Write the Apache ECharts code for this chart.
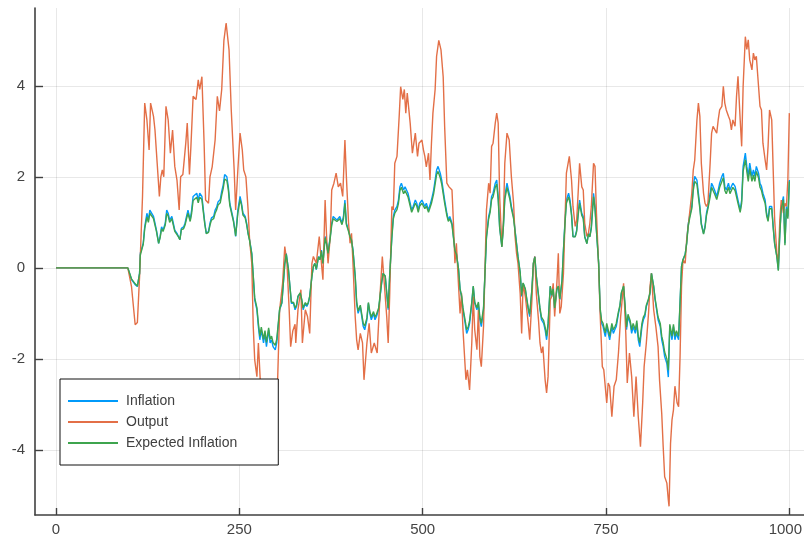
<!DOCTYPE html>
<html>
<head>
<meta charset="utf-8">
<script src="https://cdn.jsdelivr.net/npm/echarts@6/dist/echarts.min.js"></script>
<style>html,body{margin:0;padding:0;background:#fff;overflow:hidden}#c{width:804px;height:536px}</style>
</head>
<body>
<div id="c"></div>
<script>
const xTicks = [0, 250, 500, 750, 1000];
const yTicks = [-4, -2, 0, 2, 4];
const seriesNames = ['Inflation', 'Output', 'Expected Inflation'];

const inflation = [[0,0],[98,0],[103,-0.26],[108,-0.37],[111,-0.41],[114,-0.12],[115,0.32],[119,0.54],[121,0.9],[124,1.2],[126,1.05],[128,1.27],[130,1.31],[133,1.13],[135,0.98],[137,0.83],[140,0.54],[142,0.69],[144,0.9],[146,0.83],[149,0.98],[151,1.27],[153,1.2],[155,1.05],[158,1.13],[160,0.98],[162,0.83],[165,0.76],[167,0.69],[169,0.62],[171,0.87],[174,0.9],[176,0.98],[178,1.13],[180,1.27],[183,1.05],[185,1.27],[187,1.57],[192,1.64],[194,1.49],[196,1.64],[199,1.57],[201,1.27],[203,0.98],[205,0.76],[208,0.8],[210,0.98],[212,1.1],[215,1.13],[217,1.27],[219,1.33],[221,1.45],[224,1.5],[226,1.68],[228,1.82],[230,2.05],[233,2.0],[235,1.78],[237,1.42],[240,1.2],[242,1.05],[244,0.83],[245,0.69],[248,1.27],[251,1.57],[253,1.42],[255,1.2],[258,1.13],[260,0.98],[262,0.76],[264,0.62],[267,0.32],[269,-0.19],[271,-0.7],[274,-0.92],[276,-1.29],[278,-1.58],[280,-1.36],[283,-1.65],[285,-1.44],[287,-1.73],[290,-1.36],[292,-1.65],[294,-1.58],[296,-1.73],[299,-1.8],[301,-1.65],[303,-1.29],[305,-0.92],[308,-0.78],[310,-0.34],[312,0.1],[314,0.32],[317,-0.04],[319,-0.41],[321,-0.78],[324,-0.78],[326,-0.92],[328,-0.85],[330,-0.63],[333,-0.56],[335,-0.7],[337,-0.92],[340,-0.78],[342,-0.85],[344,-0.78],[346,-0.63],[349,-0.19],[351,0.03],[353,0.1],[355,-0.04],[358,0.25],[360,0.18],[362,0.39],[364,0.1],[367,0.69],[369,0.54],[371,0.32],[374,0.69],[376,0.98],[378,1.13],[380,1.1],[383,1.05],[385,1.05],[387,1.13],[390,0.98],[392,1.13],[394,1.49],[396,0.98],[399,0.83],[401,0.69],[403,0.62],[405,0.39],[408,-0.19],[410,-0.78],[412,-1.0],[415,-0.85],[417,-1.07],[419,-1.29],[421,-1.36],[424,-1.14],[426,-0.78],[428,-1.0],[430,-1.14],[433,-1.0],[435,-1.14],[437,-1.07],[440,-0.92],[442,-0.63],[444,-0.34],[446,-0.12],[449,-0.19],[451,-0.56],[453,-0.92],[455,-0.19],[458,0.69],[460,1.13],[462,1.27],[465,1.35],[467,1.49],[469,1.78],[471,1.86],[474,1.71],[476,1.78],[478,1.71],[480,1.64],[483,1.42],[485,1.27],[487,1.35],[490,1.49],[492,1.42],[494,1.27],[496,1.42],[499,1.49],[501,1.42],[503,1.35],[505,1.42],[508,1.27],[510,1.27],[512,1.49],[515,1.71],[517,1.93],[519,2.15],[521,2.23],[524,2.08],[526,1.93],[528,1.71],[530,1.49],[533,1.2],[535,1.05],[537,1.13],[540,0.98],[542,0.69],[544,0.39],[546,0.32],[549,-0.04],[551,-0.48],[553,-0.63],[555,-0.92],[558,-1.22],[560,-1.44],[562,-1.36],[564,-1.22],[567,-0.78],[569,-0.41],[571,-0.78],[574,-0.92],[576,-0.78],[578,-1.14],[580,-1.29],[583,-0.92],[585,-0.12],[587,0.69],[590,1.13],[592,1.27],[594,1.57],[596,1.64],[599,1.86],[601,1.93],[603,1.57],[605,0.9],[608,0.47],[610,0.9],[612,1.57],[615,1.86],[617,1.71],[619,1.57],[621,1.35],[624,1.13],[626,0.83],[628,0.54],[630,0.25],[633,-0.12],[635,-0.63],[637,-0.34],[640,-0.48],[642,-0.7],[644,-0.92],[646,-1.07],[649,-0.48],[651,0.1],[653,0.25],[655,-0.19],[658,-0.63],[660,-0.92],[662,-1.14],[665,-1.22],[667,-1.36],[669,-1.58],[671,-1.29],[674,-0.41],[676,-0.63],[678,-0.48],[680,-0.92],[683,-0.48],[685,-0.41],[687,-0.7],[690,-0.3],[692,0.39],[694,1.0],[696,1.49],[699,1.64],[701,1.49],[703,1.2],[705,0.69],[708,0.69],[710,0.83],[712,1.2],[714,1.49],[717,1.2],[719,1.13],[721,0.69],[724,0.54],[726,0.76],[728,0.69],[730,0.9],[733,1.64],[735,1.35],[737,0.83],[740,0.1],[742,-0.92],[744,-1.22],[746,-1.29],[749,-1.51],[751,-1.29],[753,-1.44],[755,-1.58],[758,-1.29],[760,-1.44],[762,-1.36],[764,-1.29],[767,-1.0],[769,-0.85],[771,-0.56],[774,-0.41],[776,-0.85],[778,-1.36],[780,-1.07],[783,-1.22],[785,-1.44],[787,-1.29],[790,-1.44],[792,-1.22],[794,-1.58],[796,-1.73],[799,-1.29],[801,-1.14],[803,-1.07],[805,-0.85],[808,-0.7],[810,-0.56],[812,-0.12],[815,-0.41],[817,-0.7],[819,-0.92],[821,-1.14],[824,-1.29],[826,-1.58],[828,-1.73],[830,-1.95],[833,-2.1],[835,-2.4],[837,-1.29],[840,-1.58],[842,-1.29],[844,-1.58],[846,-1.44],[849,-1.58],[851,-0.78],[853,0.03],[855,0.18],[858,0.3],[860,0.55],[862,0.95],[864,1.13],[867,1.35],[869,1.79],[871,2.01],[874,1.93],[876,1.64],[878,1.35],[880,0.98],[883,0.76],[885,0.91],[887,1.2],[889,1.35],[892,1.64],[894,1.86],[896,1.79],[898,1.71],[901,1.57],[903,1.71],[905,1.86],[908,2.01],[910,2.08],[912,1.79],[914,1.71],[917,1.86],[919,1.71],[921,1.79],[923,1.86],[926,1.79],[928,1.64],[930,1.49],[933,1.27],[935,1.49],[937,2.23],[940,2.52],[942,2.23],[944,2.01],[946,2.3],[949,2.01],[951,2.15],[953,2.01],[955,2.23],[958,2.08],[960,1.86],[962,1.79],[964,1.64],[967,1.49],[969,1.2],[971,1.05],[973,1.35],[976,1.35],[978,0.91],[980,0.54],[983,0.25],[985,-0.04],[987,0.76],[989,1.35],[992,1.57],[994,0.54],[996,1.35],[998,1.13],[1000,1.93]];

const output = [[0,0],[98,0],[103,-0.41],[108,-1.25],[111,-1.2],[114,-0.19],[118,1.57],[121,3.62],[124,3.25],[127,2.59],[129,3.62],[133,3.33],[135,3.03],[138,2.3],[141,1.57],[143,2.0],[145,2.15],[147,2.0],[150,3.55],[153,3.25],[156,2.52],[159,3.03],[162,2.23],[165,1.93],[168,1.27],[170,2.0],[173,2.05],[177,2.74],[179,3.18],[182,2.05],[184,2.67],[187,3.77],[191,3.7],[194,4.13],[196,3.92],[199,4.2],[202,2.74],[204,1.49],[208,1.42],[210,2.0],[213,2.22],[217,2.81],[220,3.77],[223,3.45],[226,3.92],[229,5.0],[232,5.38],[236,4.79],[239,3.47],[243,2.15],[245,1.27],[248,2.15],[251,2.96],[254,2.6],[256,2.15],[259,2.0],[262,1.27],[264,0.62],[267,0.1],[269,-1.29],[271,-2.02],[274,-2.39],[276,-1.65],[279,-2.6],[283,-3.2],[287,-2.8],[291,-3.5],[295,-2.9],[299,-3.3],[302,-2.6],[305,-0.92],[309,-0.34],[312,0.47],[315,0.1],[318,-0.92],[320,-1.73],[323,-1.38],[326,-1.24],[327,-1.65],[330,-0.92],[334,-0.48],[336,-1.65],[340,-0.92],[343,-1.07],[346,-1.44],[349,0.1],[351,0.25],[355,0.1],[359,0.69],[362,0.1],[364,-0.26],[367,1.49],[369,0.69],[371,0.1],[374,0.69],[376,1.71],[379,1.86],[382,2.08],[385,1.78],[388,1.86],[391,1.57],[394,2.81],[396,2.0],[399,0.98],[401,0.54],[403,0.76],[405,0.1],[408,-1.07],[410,-1.58],[412,-1.8],[415,-1.44],[418,-1.65],[420,-2.46],[424,-1.65],[427,-1.22],[430,-1.87],[434,-1.65],[438,-1.87],[439,-1.51],[442,-0.56],[445,0.25],[447,-0.19],[451,-1.07],[453,-1.65],[455,-0.63],[458,1.35],[460,1.27],[462,2.3],[465,2.45],[468,3.33],[470,3.98],[473,3.7],[475,3.92],[477,3.4],[479,3.84],[483,3.18],[486,2.52],[488,2.74],[490,2.96],[493,2.45],[495,2.74],[499,2.81],[501,2.6],[503,2.45],[505,2.22],[508,2.52],[510,1.93],[512,2.74],[514,3.4],[517,3.92],[519,4.65],[522,5.0],[525,4.79],[528,4.2],[530,3.1],[533,1.86],[536,1.78],[540,1.71],[542,0.98],[544,0.1],[546,0.54],[549,-0.41],[551,-1.0],[553,-0.56],[555,-1.36],[559,-2.46],[561,-2.24],[564,-2.68],[567,-1.65],[569,-0.63],[571,-1.36],[574,-1.8],[576,-0.92],[578,-1.95],[580,-2.17],[583,-1.29],[585,-0.04],[587,1.27],[590,1.86],[592,1.64],[594,2.67],[596,2.74],[599,3.18],[601,3.4],[603,3.18],[605,1.57],[608,0.47],[610,0.98],[612,2.3],[615,2.96],[618,2.81],[621,2.0],[624,1.42],[626,0.69],[628,0.32],[630,0.1],[633,-0.56],[635,-1.44],[637,-0.34],[640,-0.63],[642,-0.92],[644,-1.22],[646,-1.58],[649,-0.7],[651,0.1],[653,0.25],[655,-0.56],[658,-1.15],[660,-1.65],[662,-1.87],[664,-1.73],[667,-2.46],[669,-2.75],[671,-2.39],[674,-0.7],[676,-0.63],[678,-0.34],[680,-1.07],[683,-0.34],[685,0.32],[687,-1.0],[689,-0.85],[692,-0.12],[694,0.98],[696,2.08],[700,2.45],[703,1.93],[705,1.35],[708,0.91],[710,1.05],[712,1.64],[714,2.3],[717,1.78],[719,1.71],[721,0.98],[724,0.69],[726,0.76],[728,0.98],[730,1.35],[733,2.3],[735,2.23],[737,1.2],[740,0.03],[742,-1.0],[745,-2.17],[747,-2.24],[751,-2.97],[753,-2.53],[755,-2.6],[758,-3.27],[761,-2.6],[764,-2.46],[767,-1.87],[770,-1.07],[774,-0.34],[777,-1.44],[779,-2.53],[782,-1.87],[785,-2.39],[788,-3.27],[791,-2.39],[794,-3.27],[797,-3.93],[800,-2.97],[802,-2.17],[805,-1.65],[808,-1.0],[810,-0.41],[812,-0.12],[815,-0.92],[818,-1.29],[821,-1.73],[823,-2.46],[826,-3.2],[828,-3.93],[830,-4.59],[833,-4.73],[835,-5.1],[836,-5.24],[838,-3.86],[840,-3.34],[842,-3.12],[844,-2.6],[847,-2.97],[849,-3.05],[851,-1.95],[853,-0.4],[855,0.18],[858,0.1],[860,0.62],[863,1.05],[867,1.64],[869,2.15],[871,2.37],[874,3.25],[876,3.62],[878,3.33],[880,2.3],[883,1.64],[885,1.42],[887,1.35],[889,1.42],[892,2.3],[894,2.96],[896,3.11],[898,3.11],[901,2.96],[903,3.25],[905,3.47],[908,3.55],[910,3.99],[912,3.62],[914,3.47],[917,3.33],[919,3.25],[921,3.03],[923,3.25],[926,3.11],[928,3.77],[930,4.21],[933,3.25],[935,2.67],[937,3.99],[940,5.08],[942,4.8],[944,5.01],[946,4.57],[949,4.35],[951,4.72],[953,4.57],[955,4.65],[958,3.99],[960,3.55],[962,3.47],[964,2.74],[967,2.37],[969,2.15],[971,2.67],[973,3.47],[976,3.25],[978,2.15],[980,1.05],[983,0.32],[985,0.1],[987,1.05],[989,1.49],[992,1.2],[994,1.42],[996,1.35],[998,1.93],[1000,3.4]];

const expectedInflation = [[0,0],[98,0],[103,-0.24],[108,-0.35],[111,-0.4],[114,-0.12],[115,0.28],[119,0.52],[121,0.86],[124,1.12],[126,1.0],[128,1.2],[130,1.24],[133,1.08],[135,0.94],[137,0.8],[140,0.54],[142,0.66],[144,0.86],[146,0.8],[149,0.94],[151,1.2],[153,1.14],[155,1.0],[158,1.08],[160,0.94],[162,0.8],[165,0.73],[167,0.68],[169,0.62],[171,0.84],[174,0.86],[176,0.94],[178,1.08],[180,1.2],[183,1.02],[185,1.2],[187,1.48],[192,1.55],[194,1.43],[196,1.55],[199,1.5],[201,1.22],[203,0.95],[205,0.75],[208,0.78],[210,0.94],[212,1.05],[215,1.08],[217,1.2],[219,1.27],[221,1.38],[224,1.43],[226,1.6],[228,1.74],[230,1.95],[233,1.92],[235,1.72],[237,1.38],[240,1.16],[242,1.02],[244,0.82],[245,0.7],[248,1.2],[251,1.5],[253,1.38],[255,1.16],[258,1.1],[260,0.95],[262,0.75],[264,0.6],[267,0.3],[269,-0.17],[271,-0.66],[274,-0.88],[276,-1.22],[278,-1.5],[280,-1.3],[283,-1.57],[285,-1.38],[287,-1.64],[290,-1.32],[292,-1.57],[294,-1.5],[296,-1.64],[299,-1.7],[301,-1.57],[303,-1.24],[305,-0.9],[308,-0.76],[310,-0.34],[312,0.08],[314,0.3],[317,-0.04],[319,-0.4],[321,-0.75],[324,-0.76],[326,-0.88],[328,-0.82],[330,-0.62],[333,-0.55],[335,-0.68],[337,-0.88],[340,-0.76],[342,-0.82],[344,-0.76],[346,-0.62],[349,-0.18],[351,0.03],[353,0.1],[355,-0.03],[358,0.24],[360,0.18],[362,0.37],[364,0.1],[367,0.66],[369,0.52],[371,0.32],[374,0.66],[376,0.94],[378,1.08],[380,1.06],[383,1.02],[385,1.02],[387,1.08],[390,0.95],[392,1.08],[394,1.42],[396,0.95],[399,0.8],[401,0.68],[403,0.6],[405,0.38],[408,-0.17],[410,-0.74],[412,-0.95],[415,-0.82],[417,-1.02],[419,-1.22],[421,-1.28],[424,-1.1],[426,-0.76],[428,-0.96],[430,-1.08],[433,-0.96],[435,-1.08],[437,-1.02],[440,-0.88],[442,-0.6],[444,-0.33],[446,-0.12],[449,-0.18],[451,-0.54],[453,-0.88],[455,-0.18],[458,0.66],[460,1.08],[462,1.2],[465,1.28],[467,1.42],[469,1.7],[471,1.77],[474,1.63],[476,1.7],[478,1.63],[480,1.56],[483,1.36],[485,1.22],[487,1.3],[490,1.42],[492,1.36],[494,1.22],[496,1.36],[499,1.42],[501,1.36],[503,1.3],[505,1.36],[508,1.22],[510,1.22],[512,1.42],[515,1.63],[517,1.84],[519,2.05],[521,2.12],[524,1.98],[526,1.84],[528,1.63],[530,1.42],[533,1.15],[535,1.02],[537,1.08],[540,0.95],[542,0.66],[544,0.38],[546,0.3],[549,-0.04],[551,-0.46],[553,-0.6],[555,-0.88],[558,-1.16],[560,-1.36],[562,-1.3],[564,-1.16],[567,-0.75],[569,-0.4],[571,-0.75],[574,-0.88],[576,-0.75],[578,-1.08],[580,-1.22],[583,-0.88],[585,-0.1],[587,0.66],[590,1.08],[592,1.22],[594,1.5],[596,1.56],[599,1.77],[601,1.84],[603,1.5],[605,0.88],[608,0.46],[610,0.88],[612,1.5],[615,1.77],[617,1.63],[619,1.5],[621,1.3],[624,1.08],[626,0.8],[628,0.52],[630,0.24],[633,-0.1],[635,-0.6],[637,-0.33],[640,-0.46],[642,-0.68],[644,-0.88],[646,-1.02],[649,-0.46],[651,0.1],[653,0.24],[655,-0.18],[658,-0.6],[660,-0.88],[662,-1.08],[665,-1.16],[667,-1.3],[669,-1.5],[671,-1.22],[674,-0.4],[676,-0.6],[678,-0.46],[680,-0.88],[683,-0.46],[685,-0.4],[687,-0.68],[690,-0.28],[692,0.38],[694,0.96],[696,1.42],[699,1.56],[701,1.42],[703,1.15],[705,0.68],[708,0.68],[710,0.8],[712,1.15],[714,1.42],[717,1.15],[719,1.08],[721,0.68],[724,0.53],[726,0.74],[728,0.68],[730,0.87],[733,1.56],[735,1.3],[737,0.8],[740,0.1],[742,-0.88],[744,-1.16],[746,-1.22],[749,-1.43],[751,-1.22],[753,-1.36],[755,-1.5],[758,-1.22],[760,-1.36],[762,-1.3],[764,-1.22],[767,-0.96],[769,-0.82],[771,-0.54],[774,-0.4],[776,-0.82],[778,-1.3],[780,-1.02],[783,-1.16],[785,-1.36],[787,-1.22],[790,-1.36],[792,-1.16],[794,-1.5],[796,-1.64],[799,-1.22],[801,-1.08],[803,-1.02],[805,-0.82],[808,-0.68],[810,-0.54],[812,-0.12],[815,-0.4],[817,-0.68],[819,-0.88],[821,-1.08],[824,-1.22],[826,-1.5],[828,-1.64],[830,-1.85],[833,-2.0],[835,-2.25],[837,-1.24],[840,-1.5],[842,-1.24],[844,-1.5],[846,-1.38],[849,-1.5],[851,-0.75],[853,0.03],[855,0.18],[858,0.3],[860,0.53],[862,0.9],[864,1.08],[867,1.3],[869,1.7],[871,1.9],[874,1.84],[876,1.56],[878,1.3],[880,0.95],[883,0.74],[885,0.88],[887,1.15],[889,1.3],[892,1.56],[894,1.77],[896,1.7],[898,1.63],[901,1.5],[903,1.63],[905,1.77],[908,1.9],[910,1.98],[912,1.7],[914,1.63],[917,1.77],[919,1.63],[921,1.7],[923,1.77],[926,1.7],[928,1.56],[930,1.42],[933,1.22],[935,1.42],[937,2.12],[940,2.38],[942,2.12],[944,1.9],[946,2.18],[949,1.9],[951,2.04],[953,1.9],[955,2.12],[958,1.98],[960,1.77],[962,1.7],[964,1.56],[967,1.42],[969,1.15],[971,1.02],[973,1.3],[976,1.3],[978,0.88],[980,0.52],[983,0.24],[985,-0.06],[987,0.74],[989,1.3],[992,1.5],[994,0.5],[996,1.3],[998,1.08],[1000,1.9]];

const colors = ['#009AFA', '#E36F47', '#3EA44E'];
const axisColor = '#404040';
const fontFamily = "'Liberation Sans', Arial, sans-serif";

const chart = echarts.init(document.getElementById('c'), null, {renderer: 'canvas', width: 804, height: 536});
chart.setOption({
  animation: false,
  backgroundColor: '#fff',
  grid: {left: 35, top: 8, width: 769, height: 507, containLabel: false, outerBoundsMode: 'none'},
  xAxis: {
    type: 'value', min: -28.6, max: 1020,
    axisLine: {onZero: false, lineStyle: {color: axisColor, width: 1.6}},
    axisTick: {inside: true, length: 7, customValues: xTicks, lineStyle: {color: axisColor, width: 1.4}},
    axisLabel: {customValues: xTicks, color: '#444', fontSize: 15, margin: 7, fontFamily: fontFamily,
      hideOverlap: false,
      formatter: function (v) { return v === xTicks[xTicks.length - 1] ? '{last|' + v + '}' : String(v); },
      rich: {last: {fontSize: 15, color: '#444', fontFamily: fontFamily, padding: [0, 8, 0, 0]}}},
    splitLine: {show: true, lineStyle: {color: 'rgba(0,0,0,0.09)', width: 1}}
  },
  yAxis: {
    type: 'value', min: -5.43, max: 5.71,
    axisLine: {onZero: false, lineStyle: {color: axisColor, width: 1.6}},
    axisTick: {inside: true, length: 8, customValues: yTicks, lineStyle: {color: axisColor, width: 1.4}},
    axisLabel: {customValues: yTicks, color: '#444', fontSize: 15, margin: 10, fontFamily: fontFamily},
    splitLine: {show: true, lineStyle: {color: 'rgba(0,0,0,0.09)', width: 1}}
  },
  legend: {
    left: 60, top: 379, orient: 'vertical',
    backgroundColor: '#fff', borderColor: '#111', borderWidth: 1, borderRadius: 0,
    padding: [14, 41, 14, 8], itemGap: 5,
    itemWidth: 50, itemHeight: 2, icon: 'rect',
    textStyle: {fontSize: 14, color: '#404040', fontFamily: fontFamily, lineHeight: 16, padding: [0, 0, 0, 3]},
    data: seriesNames
  },
  series: [
    {name: seriesNames[0], type: 'line', data: inflation, showSymbol: false, color: colors[0], lineStyle: {width: 1.4}},
    {name: seriesNames[1], type: 'line', data: output, showSymbol: false, color: colors[1], lineStyle: {width: 1.4}},
    {name: seriesNames[2], type: 'line', data: expectedInflation, showSymbol: false, color: colors[2], lineStyle: {width: 1.4}}
  ]
});
</script>
</body>
</html>
